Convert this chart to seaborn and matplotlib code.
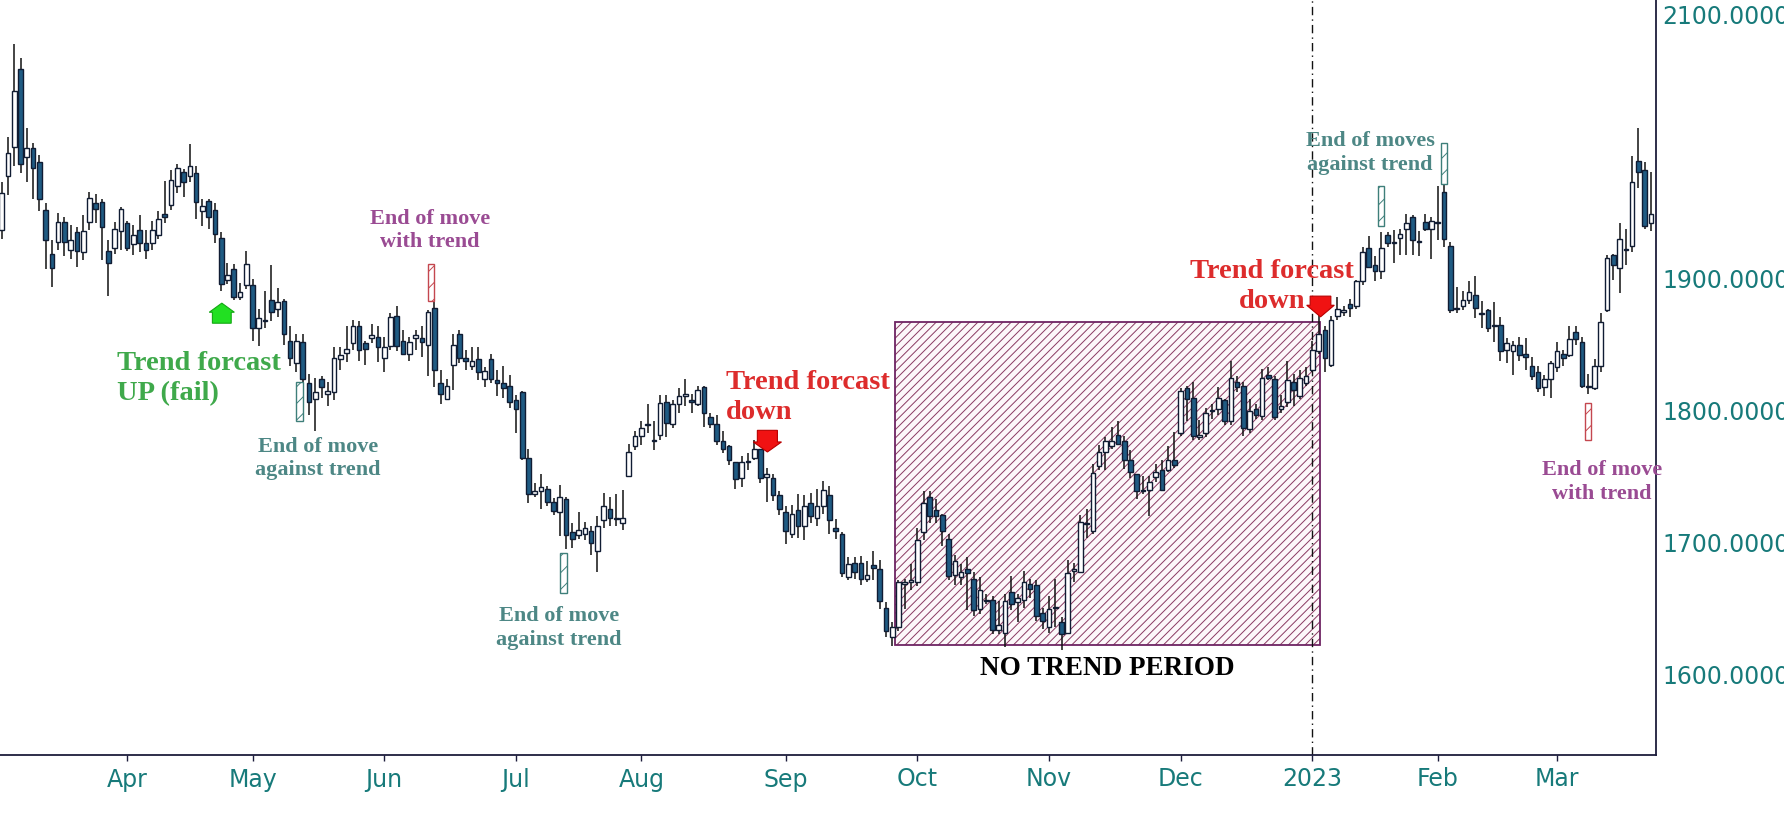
import numpy as np
import pandas as pd
import seaborn as sns
import matplotlib.pyplot as plt
from matplotlib.patches import Rectangle, Polygon

# daily gold candles, Mar 2022 - Mar 2023
start_date = '2022-03-04'
end_date = '2023-03-22'
holidays = ['2022-04-15', '2022-05-30', '2022-06-20', '2022-07-04', '2022-09-05',
            '2022-11-24', '2022-12-26', '2023-01-02', '2023-01-16', '2023-02-20']

opens = [
    1937, 1978, 2000, 2059, 1992, 1999, 1988, 1952, 1919, 1928,
    1943, 1922, 1935, 1920, 1943, 1957, 1958, 1921, 1923, 1936,
    1942, 1926, 1937, 1927, 1927, 1933, 1949, 1956, 1970, 1981,
    1978, 1980, 1951, 1959, 1952, 1931, 1899, 1907, 1886, 1895,
    1895, 1863, 1868, 1884, 1877, 1883, 1853, 1836, 1852, 1821,
    1809, 1824, 1813, 1814, 1839, 1844, 1851, 1864, 1851, 1855,
    1856, 1840, 1849, 1872, 1853, 1843, 1855, 1855, 1850, 1878,
    1821, 1809, 1835, 1858, 1840, 1834, 1839, 1824, 1839, 1823,
    1821, 1819, 1808, 1814, 1764, 1737, 1739, 1741, 1731, 1723,
    1733, 1708, 1706, 1707, 1709, 1694, 1717, 1726, 1718, 1715,
    1751, 1773, 1781, 1789, 1777, 1782, 1807, 1790, 1805, 1811,
    1808, 1805, 1818, 1795, 1790, 1777, 1773, 1761, 1749, 1761,
    1764, 1771, 1750, 1749, 1736, 1723, 1707, 1725, 1713, 1730,
    1719, 1728, 1736, 1711, 1707, 1674, 1685, 1685, 1673, 1683,
    1680, 1651, 1629, 1636, 1669, 1670, 1670, 1708, 1735, 1725,
    1721, 1703, 1676, 1674, 1680, 1673, 1650, 1656, 1657, 1634,
    1632, 1663, 1655, 1657, 1669, 1668, 1647, 1636, 1651, 1640,
    1632, 1679, 1678, 1714, 1709, 1758, 1769, 1773, 1782, 1777,
    1763, 1752, 1739, 1740, 1750, 1755, 1755, 1763, 1783, 1817,
    1810, 1780, 1783, 1800, 1801, 1808, 1792, 1822, 1819, 1786,
    1801, 1796, 1827, 1824, 1801, 1807, 1822, 1811, 1821, 1831,
    1845, 1861, 1835, 1872, 1875, 1881, 1879, 1898, 1923, 1910,
    1906, 1933, 1927, 1931, 1938, 1947, 1928, 1943, 1938, 1943,
    1966, 1925, 1877, 1879, 1884, 1888, 1874, 1876, 1864, 1865,
    1846, 1845, 1850, 1843, 1834, 1829, 1818, 1824, 1833, 1843,
    1842, 1860, 1852, 1818, 1817, 1834, 1876, 1918, 1908, 1922,
    1925, 1989, 1982, 1942,
]
highs = [
    1973, 2007, 2078, 2067, 2014, 2003, 1994, 1957, 1929, 1950,
    1947, 1941, 1939, 1948, 1966, 1964, 1960, 1929, 1943, 1954,
    1944, 1941, 1948, 1937, 1944, 1951, 1974, 1982, 1987, 1983,
    2002, 1985, 1960, 1960, 1957, 1935, 1912, 1911, 1897, 1921,
    1900, 1877, 1891, 1910, 1893, 1885, 1864, 1858, 1858, 1828,
    1825, 1826, 1822, 1848, 1848, 1864, 1869, 1868, 1853, 1866,
    1864, 1856, 1874, 1879, 1861, 1856, 1861, 1864, 1876, 1882,
    1831, 1824, 1858, 1861, 1846, 1848, 1848, 1833, 1843, 1831,
    1834, 1827, 1812, 1815, 1771, 1745, 1752, 1743, 1734, 1744,
    1735, 1715, 1723, 1716, 1713, 1720, 1738, 1735, 1737, 1740,
    1775, 1785, 1792, 1805, 1792, 1812, 1812, 1808, 1817, 1824,
    1813, 1819, 1819, 1798, 1797, 1785, 1774, 1761, 1766, 1768,
    1778, 1771, 1757, 1752, 1739, 1728, 1729, 1737, 1736, 1738,
    1741, 1747, 1743, 1718, 1708, 1689, 1689, 1690, 1686, 1694,
    1687, 1655, 1640, 1672, 1673, 1684, 1711, 1739, 1739, 1733,
    1722, 1707, 1691, 1684, 1689, 1678, 1674, 1661, 1660, 1656,
    1661, 1675, 1661, 1679, 1673, 1672, 1651, 1660, 1673, 1644,
    1687, 1685, 1721, 1726, 1760, 1774, 1780, 1788, 1792, 1781,
    1770, 1752, 1751, 1751, 1760, 1763, 1773, 1784, 1817, 1819,
    1822, 1793, 1802, 1805, 1818, 1809, 1838, 1826, 1822, 1809,
    1805, 1832, 1833, 1826, 1812, 1838, 1828, 1831, 1833, 1853,
    1874, 1864, 1872, 1886, 1879, 1885, 1899, 1924, 1932, 1917,
    1935, 1935, 1937, 1938, 1949, 1948, 1936, 1949, 1947, 1970,
    1975, 1928, 1894, 1891, 1898, 1902, 1883, 1877, 1882, 1871,
    1855, 1853, 1856, 1855, 1841, 1834, 1827, 1838, 1852, 1846,
    1864, 1864, 1856, 1828, 1839, 1874, 1918, 1919, 1942, 1938,
    1993, 2014, 1988, 1981,
]
lows = [
    1930, 1963, 1985, 1980, 1973, 1960, 1951, 1907, 1894, 1922,
    1917, 1915, 1909, 1914, 1937, 1942, 1914, 1887, 1919, 1922,
    1921, 1918, 1920, 1915, 1922, 1930, 1942, 1952, 1965, 1962,
    1973, 1945, 1940, 1938, 1927, 1891, 1896, 1884, 1884, 1892,
    1853, 1849, 1863, 1868, 1871, 1850, 1834, 1829, 1816, 1797,
    1785, 1810, 1804, 1808, 1831, 1837, 1846, 1838, 1835, 1851,
    1837, 1829, 1846, 1845, 1842, 1838, 1846, 1841, 1826, 1818,
    1805, 1808, 1816, 1836, 1831, 1831, 1823, 1818, 1821, 1811,
    1810, 1802, 1783, 1763, 1730, 1735, 1726, 1728, 1721, 1705,
    1695, 1696, 1703, 1702, 1691, 1678, 1711, 1713, 1713, 1710,
    1750, 1770, 1774, 1783, 1770, 1778, 1780, 1787, 1798, 1804,
    1798, 1804, 1788, 1787, 1774, 1768, 1759, 1741, 1742, 1755,
    1763, 1745, 1731, 1732, 1721, 1699, 1704, 1704, 1702, 1715,
    1713, 1722, 1707, 1703, 1674, 1672, 1673, 1668, 1670, 1672,
    1650, 1629, 1622, 1633, 1650, 1664, 1667, 1702, 1715, 1715,
    1698, 1672, 1668, 1668, 1649, 1645, 1646, 1654, 1631, 1631,
    1621, 1649, 1640, 1651, 1658, 1641, 1635, 1632, 1636, 1619,
    1631, 1670, 1677, 1704, 1707, 1755, 1755, 1771, 1774, 1756,
    1749, 1733, 1737, 1720, 1746, 1739, 1754, 1757, 1781, 1792,
    1778, 1778, 1780, 1794, 1797, 1789, 1789, 1814, 1781, 1783,
    1794, 1793, 1823, 1793, 1798, 1803, 1804, 1809, 1819, 1829,
    1843, 1829, 1833, 1869, 1872, 1871, 1877, 1895, 1908, 1898,
    1900, 1924, 1912, 1918, 1918, 1918, 1917, 1936, 1915, 1929,
    1924, 1874, 1874, 1876, 1881, 1870, 1863, 1860, 1852, 1838,
    1836, 1827, 1838, 1831, 1823, 1814, 1811, 1810, 1829, 1834,
    1841, 1850, 1817, 1813, 1816, 1829, 1875, 1899, 1889, 1910,
    1920, 1969, 1938, 1936,
]
closes = [
    1965, 1995, 2042, 1987, 1999, 1984, 1960, 1929, 1908, 1943,
    1928, 1929, 1921, 1936, 1961, 1953, 1939, 1912, 1938, 1953,
    1923, 1933, 1927, 1922, 1937, 1945, 1947, 1975, 1984, 1973,
    1985, 1958, 1955, 1947, 1934, 1896, 1903, 1886, 1890, 1911,
    1863, 1870, 1869, 1875, 1882, 1858, 1840, 1853, 1824, 1807,
    1814, 1818, 1815, 1840, 1842, 1847, 1864, 1846, 1847, 1857,
    1848, 1848, 1871, 1849, 1843, 1852, 1857, 1852, 1875, 1831,
    1813, 1819, 1850, 1840, 1838, 1838, 1829, 1830, 1824, 1821,
    1817, 1807, 1801, 1764, 1737, 1739, 1742, 1731, 1724, 1735,
    1706, 1703, 1710, 1711, 1700, 1713, 1728, 1719, 1718, 1719,
    1769, 1781, 1787, 1790, 1777, 1806, 1791, 1805, 1811, 1813,
    1807, 1816, 1798, 1790, 1777, 1771, 1763, 1748, 1761, 1761,
    1771, 1749, 1752, 1736, 1726, 1709, 1722, 1713, 1728, 1720,
    1728, 1740, 1717, 1709, 1677, 1684, 1678, 1673, 1676, 1681,
    1656, 1633, 1636, 1670, 1670, 1672, 1702, 1730, 1720, 1720,
    1709, 1675, 1686, 1678, 1677, 1649, 1664, 1657, 1634, 1638,
    1656, 1654, 1658, 1670, 1665, 1645, 1641, 1650, 1651, 1631,
    1677, 1680, 1716, 1715, 1753, 1769, 1777, 1777, 1775, 1763,
    1754, 1739, 1739, 1746, 1754, 1740, 1763, 1759, 1815, 1809,
    1781, 1782, 1798, 1800, 1810, 1792, 1825, 1818, 1787, 1800,
    1797, 1825, 1825, 1795, 1804, 1823, 1816, 1825, 1826, 1846,
    1858, 1840, 1869, 1877, 1876, 1878, 1898, 1920, 1909, 1906,
    1923, 1927, 1927, 1934, 1942, 1929, 1928, 1938, 1944, 1942,
    1930, 1876, 1878, 1884, 1890, 1878, 1873, 1863, 1864, 1845,
    1851, 1850, 1842, 1841, 1826, 1817, 1824, 1836, 1845, 1840,
    1854, 1854, 1819, 1818, 1834, 1867, 1916, 1910, 1930, 1922,
    1973, 1981, 1940, 1949,
]

price_ticks = [1600, 1700, 1800, 1900, 2100]

# annotation boxes: (centre candle, top, bottom)
against_boxes = [(47.5, 1822, 1792), (89.6, 1692, 1662), (219.9, 1970, 1940), (230.0, 2003, 1972)]
with_boxes = [(68.5, 1911, 1883), (253.0, 1806, 1778)]
no_trend = (142.4, 210.3, 1623, 1867)

teal = '#177a7a'
dark = '#1f5b83'
edge = '#101c33'
axis_col = '#1c1c3c'

sns.set_theme(style='white')
plt.rcParams['font.family'] = ['DejaVu Sans']
plt.rcParams['hatch.linewidth'] = 0.7

df = pd.DataFrame({'open': opens, 'high': highs, 'low': lows, 'close': closes})
dates = pd.bdate_range(start_date, end_date, freq='C', holidays=holidays)[:len(df)]
df['date'] = dates
x = np.arange(len(df))

fig = plt.figure(figsize=(17.84, 8.26), dpi=100)
ax = fig.add_axes([0, 1 - 755 / 826, 1656 / 1784, 755 / 826])

# no trend zone: hatch layer + border
x0, x1, y0, y1 = no_trend
ax.add_patch(Rectangle((x0, y0), x1 - x0, y1 - y0, facecolor='#fdf8fa',
                       edgecolor='#8a3a62', hatch='////', linewidth=0, zorder=1))
ax.add_patch(Rectangle((x0, y0), x1 - x0, y1 - y0, facecolor='none',
                       edgecolor='#6e2463', linewidth=1.3, zorder=1.1))

# candles
up = df['close'] >= df['open']
body_lo = np.minimum(df['open'], df['close'])
body_h = np.maximum((df['close'] - df['open']).abs(), 0.7)
ax.vlines(x, df['low'], df['high'], color='#111111', linewidth=1.1, zorder=2)
ax.bar(x[up], body_h[up], bottom=body_lo[up], width=0.74, color='white',
       edgecolor=edge, linewidth=1.0, zorder=3)
ax.bar(x[~up], body_h[~up], bottom=body_lo[~up], width=0.74, color=dark,
       edgecolor=edge, linewidth=1.0, zorder=3)

# small hatched markers
for cx, top, bot in against_boxes:
    ax.add_patch(Rectangle((cx - 0.5, bot), 1.0, top - bot, facecolor='white',
                           edgecolor='#3e7f7a', hatch='//', linewidth=1.0, zorder=4))
for cx, top, bot in with_boxes:
    ax.add_patch(Rectangle((cx - 0.5, bot), 1.0, top - bot, facecolor='white',
                           edgecolor='#c4474f', hatch='//', linewidth=1.0, zorder=4))


def arrow(cx, tip, shoulder, base, half_head, half_body, color, ec):
    pts = [(cx, tip), (cx + half_head, shoulder), (cx + half_body, shoulder),
           (cx + half_body, base), (cx - half_body, base), (cx - half_body, shoulder),
           (cx - half_head, shoulder)]
    ax.add_patch(Polygon(pts, closed=True, facecolor=color, edgecolor=ec,
                         linewidth=0.8, zorder=5))


arrow(35.1, 1881.5, 1874.6, 1866.3, 2.0, 1.5, '#22e022', '#14a814')
arrow(122.1, 1768.8, 1776.4, 1785.2, 2.25, 1.6, '#f01212', '#b80000')
arrow(210.3, 1871.1, 1879.9, 1886.8, 2.2, 1.65, '#f01212', '#b80000')

# month ticks
month_idx = [i for i in range(1, len(df)) if df['date'][i].month != df['date'][i - 1].month]
month_lab = ['2023' if df['date'][i].month == 1 else df['date'][i].strftime('%b') for i in month_idx]
year_idx = [i for i, lab in zip(month_idx, month_lab) if lab == '2023'][0]
ax.axvline(year_idx, color='#111111', linewidth=1.0, linestyle=(0, (6, 3, 1, 3)), zorder=2)

serif = 'Liberation Serif'
ax.text(18.4, 1824.6, 'Trend forcast\nUP (fail)', color='#3fa94b', fontsize=20.5,
        fontweight='bold', family=serif, ha='left', va='center', linespacing=1.25, zorder=6)
ax.text(115.5, 1810.2, 'Trend forcast\ndown', color='#dd2c2c', fontsize=20.5,
        fontweight='bold', family=serif, ha='left', va='center', linespacing=1.25, zorder=6)
ax.text(202.6, 1894.3, 'Trend forcast\ndown', color='#dd2c2c', fontsize=20.5,
        fontweight='bold', family=serif, ha='center', va='center', linespacing=1.25, zorder=6)
for tx, ty, s in [(50.4, 1763.7, 'End of move\nagainst trend'),
                  (88.9, 1635.5, 'End of move\nagainst trend'),
                  (218.2, 1995.0, 'End of moves\nagainst trend')]:
    ax.text(tx, ty, s, color='#4d8785', fontsize=16, fontweight='bold', family=serif,
            ha='center', va='center', linespacing=1.23, zorder=6)
for tx, ty in [(68.3, 1936.4), (255.2, 1746.0)]:
    ax.text(tx, ty, 'End of move\nwith trend', color='#9a4b93', fontsize=16,
            fontweight='bold', family=serif, ha='center', va='center',
            linespacing=1.23, zorder=6, clip_on=False)
ax.text(176.3, 1605, 'NO TREND PERIOD', color='black', fontsize=19.5, fontweight='bold',
        family=serif, ha='center', va='center', zorder=6)

ax.set_xlim(-0.27, 263.8)
ax.set_ylim(1539.4, 2111)
ax.set_xticks(month_idx)
ax.set_xticklabels(month_lab)
ax.yaxis.tick_right()
ax.set_yticks(price_ticks)
ax.set_yticklabels([f'{v:.4f}' for v in price_ticks])
ax.tick_params(axis='x', length=4, width=1, color=axis_col, labelcolor=teal,
               labelsize=17, pad=5, bottom=True)
ax.tick_params(axis='y', length=3, width=1, color=axis_col, labelcolor=teal,
               labelsize=17, pad=1.5, right=True)
ax.grid(False)
sns.despine(ax=ax, left=True, top=True, right=False, bottom=False)
for side in ['right', 'bottom']:
    ax.spines[side].set_color(axis_col)
    ax.spines[side].set_linewidth(1.3)

fig.savefig('out.png', dpi=100)
